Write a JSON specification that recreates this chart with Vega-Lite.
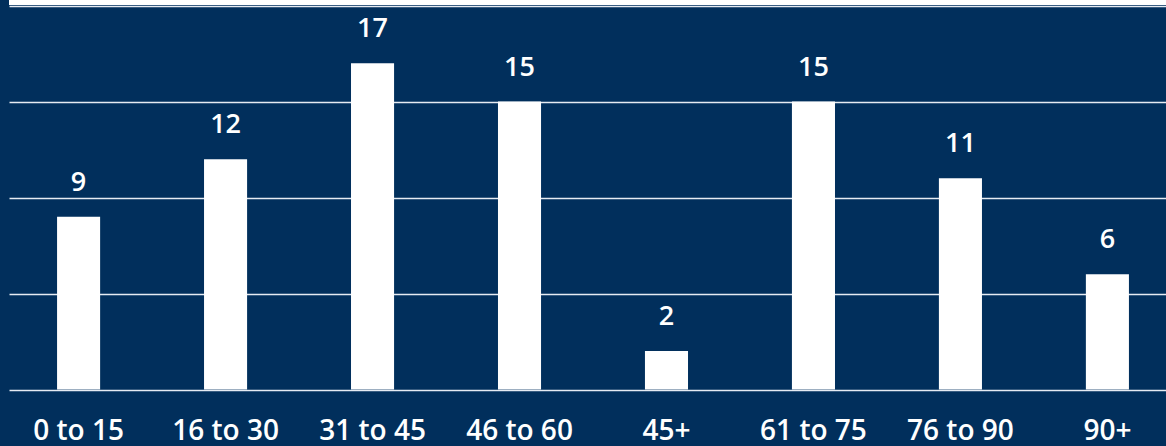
{
  "$schema": "https://vega.github.io/schema/vega-lite/v6.json",
  "autosize": "none",
  "width": 1168,
  "height": 389.5,
  "padding": {"left": 9, "top": 0, "right": 0, "bottom": 56.5},
  "background": "#012f5c",
  "config": {
    "view": {"stroke": null},
    "font": "Open Sans"
  },
  "data": {
    "values": [
      {"group": "0 to 15", "value": 9},
      {"group": "16 to 30", "value": 12},
      {"group": "31 to 45", "value": 17},
      {"group": "46 to 60", "value": 15},
      {"group": "45+", "value": 2},
      {"group": "61 to 75", "value": 15},
      {"group": "76 to 90", "value": 11},
      {"group": "90+", "value": 6}
    ]
  },
  "encoding": {
    "x": {
      "field": "group",
      "type": "nominal",
      "sort": null,
      "scale": {"paddingInner": 0.707, "paddingOuter": 0.327},
      "axis": {
        "title": null,
        "domain": false,
        "ticks": false,
        "tickSize": 0,
        "labelAngle": 0,
        "labelColor": "#ffffff",
        "labelFont": "Open Sans",
        "labelFontWeight": 600,
        "labelFontSize": 28,
        "labelBaseline": "alphabetic",
        "labelPadding": 50
      }
    },
    "y": {
      "field": "value",
      "type": "quantitative",
      "scale": {"domain": [0, 20.29], "nice": false, "zero": true},
      "axis": {
        "title": null,
        "labels": false,
        "domain": false,
        "ticks": false,
        "values": [0, 5, 10, 15, 20],
        "grid": true,
        "gridColor": "#e6ebf2",
        "gridWidth": 1.5,
        "gridOpacity": 1
      }
    }
  },
  "layer": [
    {
      "mark": {"type": "rect", "color": "#ffffff", "clip": false},
      "encoding": {
        "x": {"value": 0},
        "x2": {"value": "width"},
        "y": {"datum": 20.03},
        "y2": {"datum": 20.6}
      }
    },
    {
      "mark": {"type": "bar", "color": "#ffffff"}
    },
    {
      "mark": {
        "type": "text",
        "color": "#ffffff",
        "font": "Open Sans",
        "fontWeight": 600,
        "fontSize": 27,
        "baseline": "alphabetic",
        "dy": -26
      },
      "encoding": {
        "text": {"field": "value", "type": "quantitative"}
      }
    }
  ]
}
